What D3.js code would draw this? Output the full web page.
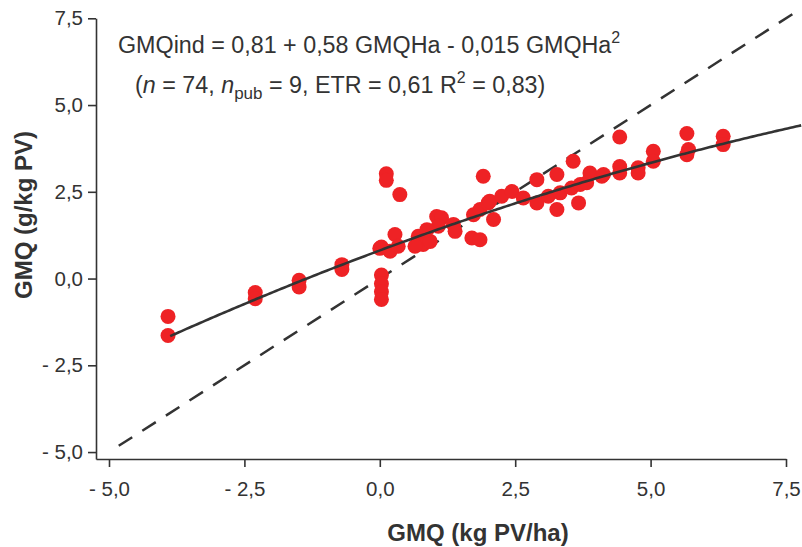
<!DOCTYPE html>
<html><head><meta charset="utf-8">
<script src="https://cdn.jsdelivr.net/npm/d3@7/dist/d3.min.js"></script>
<style>
body{margin:0;background:#fff;}
svg{display:block;font-family:"Liberation Sans",Arial,sans-serif;}
</style></head>
<body>
<svg id="chart" width="802" height="547"></svg>
<script>
// ---- data ----
const pointsX = [-3.91,-3.91,-2.30,-2.30,-1.49,-1.49,-0.70,-0.70,
  0.03,0.03,0.03,0.03,0.00,0.03,
  0.12,0.12,0.37,1.91,0.28,0.19,0.34,0.71,0.80,0.93,1.05,1.14,1.08,1.36,1.39,1.70,1.85,1.73,1.85,2.00,0.65,0.87,
  3.57,2.90,3.27,3.67,3.27,2.10,2.03,2.25,2.44,2.65,2.90,3.11,3.33,3.54,3.70,3.88,4.10,3.82,
  4.43,5.67,6.34,6.34,5.70,5.67,5.05,5.05,4.77,4.77,4.43,4.43,4.13];
const pointsY = [-1.09,-1.64,-0.40,-0.58,-0.05,-0.24,0.40,0.26,
  0.10,-0.15,-0.38,-0.60,0.87,0.91,
  3.02,2.83,2.42,2.95,1.27,0.79,0.93,1.22,0.98,1.07,1.79,1.75,1.51,1.56,1.36,1.17,1.12,1.84,1.99,2.18,0.93,1.41,
  3.38,2.85,3.00,2.18,1.99,1.70,2.23,2.37,2.51,2.32,2.18,2.37,2.47,2.61,2.71,3.04,2.95,2.76,
  4.08,4.18,4.10,3.86,3.72,3.57,3.67,3.38,3.19,3.04,3.23,3.04,3.00];
const fitCoef = [0.81, 0.58, -0.015];   // GMQind = a + b*x + c*x^2
const fitRange = [-3.87, 7.8];
const identityRange = [-4.82, 7.72];
const xTicks = [-5, -2.5, 0, 2.5, 5, 7.5];
const yTicks = [-5, -2.5, 0, 2.5, 5, 7.5];
const xLabel = "GMQ (kg PV/ha)";
const yLabel = "GMQ (g/kg PV)";

// ---- chart ----
const svg = d3.select("#chart");
const x = d3.scaleLinear().domain([-5.24, 7.5]).range([96, 786]);
const y = d3.scaleLinear().domain([-5.2, 7.5]).range([459, 18.3]);
const fmt = v => (v < 0 ? "- " : "") + Math.abs(v).toFixed(1).replace(".", ",");
const ink = "#333333";

const gx = svg.append("g").attr("transform", `translate(0,${y(-5.2)})`)
  .call(d3.axisBottom(x).tickValues(xTicks).tickFormat(fmt).tickSize(8).tickSizeOuter(0).tickPadding(14));
const gy = svg.append("g").attr("transform", `translate(${x(-5.24)},0)`)
  .call(d3.axisLeft(y).tickValues(yTicks).tickFormat(fmt).tickSize(8).tickSizeOuter(0).tickPadding(5));
[gx, gy].forEach(g => {
  g.selectAll("path.domain").attr("stroke", ink).attr("stroke-width", 1.6);
  g.selectAll(".tick line").attr("stroke", ink).attr("stroke-width", 1.6);
  g.selectAll(".tick text").attr("fill", ink).style("font-size", "20.5px")
    .style("font-family", '"Liberation Sans", Arial, sans-serif');
});

// identity (1:1) dashed line
svg.append("line")
  .attr("x1", x(identityRange[0])).attr("y1", y(identityRange[0]))
  .attr("x2", x(identityRange[1])).attr("y2", y(identityRange[1]))
  .attr("stroke", ink).attr("stroke-width", 2.5).attr("stroke-dasharray", "16,12");

// points
svg.append("g").selectAll("circle").data(pointsX.map((v, i) => [v, pointsY[i]]))
  .join("circle")
  .attr("cx", d => x(d[0])).attr("cy", d => y(d[1])).attr("r", 7.5)
  .attr("fill", "#ee2225");

// fit curve
const fitXs = d3.range(fitRange[0], fitRange[1] + 0.001, 0.05);
svg.append("path")
  .datum(fitXs.map(v => [v, fitCoef[0] + fitCoef[1] * v + fitCoef[2] * v * v]))
  .attr("d", d3.line().x(d => x(d[0])).y(d => y(d[1])))
  .attr("fill", "none").attr("stroke", ink).attr("stroke-width", 2.6);

// equation text
const t1 = svg.append("text").attr("x", 118).attr("y", 53).attr("fill", ink).style("font-size", "23.3px");
t1.append("tspan").text("GMQind = 0,81 + 0,58 GMQHa - 0,015 GMQHa");
t1.append("tspan").attr("dy", -10).style("font-size", "16px").text("2");

const t2 = svg.append("text").attr("x", 135).attr("y", 93).attr("fill", ink).style("font-size", "23.3px");
t2.append("tspan").text("(");
t2.append("tspan").style("font-style", "italic").text("n");
t2.append("tspan").text(" = 74, ");
t2.append("tspan").style("font-style", "italic").text("n");
t2.append("tspan").attr("dy", 6).style("font-size", "17px").text("pub");
t2.append("tspan").attr("dy", -6).text(" = 9, ETR = 0,61 R");
t2.append("tspan").attr("dy", -10).style("font-size", "16px").text("2");
t2.append("tspan").attr("dy", 10).text(" = 0,83)");

// axis titles
svg.append("text").attr("x", 478).attr("y", 541).attr("text-anchor", "middle")
  .attr("fill", ink).style("font-size", "24px").style("font-weight", "bold").text(xLabel);
svg.append("text").attr("transform", "translate(32,215) rotate(-90)").attr("text-anchor", "middle")
  .attr("fill", ink).style("font-size", "24px").style("font-weight", "bold").text(yLabel);
</script>
</body></html>
